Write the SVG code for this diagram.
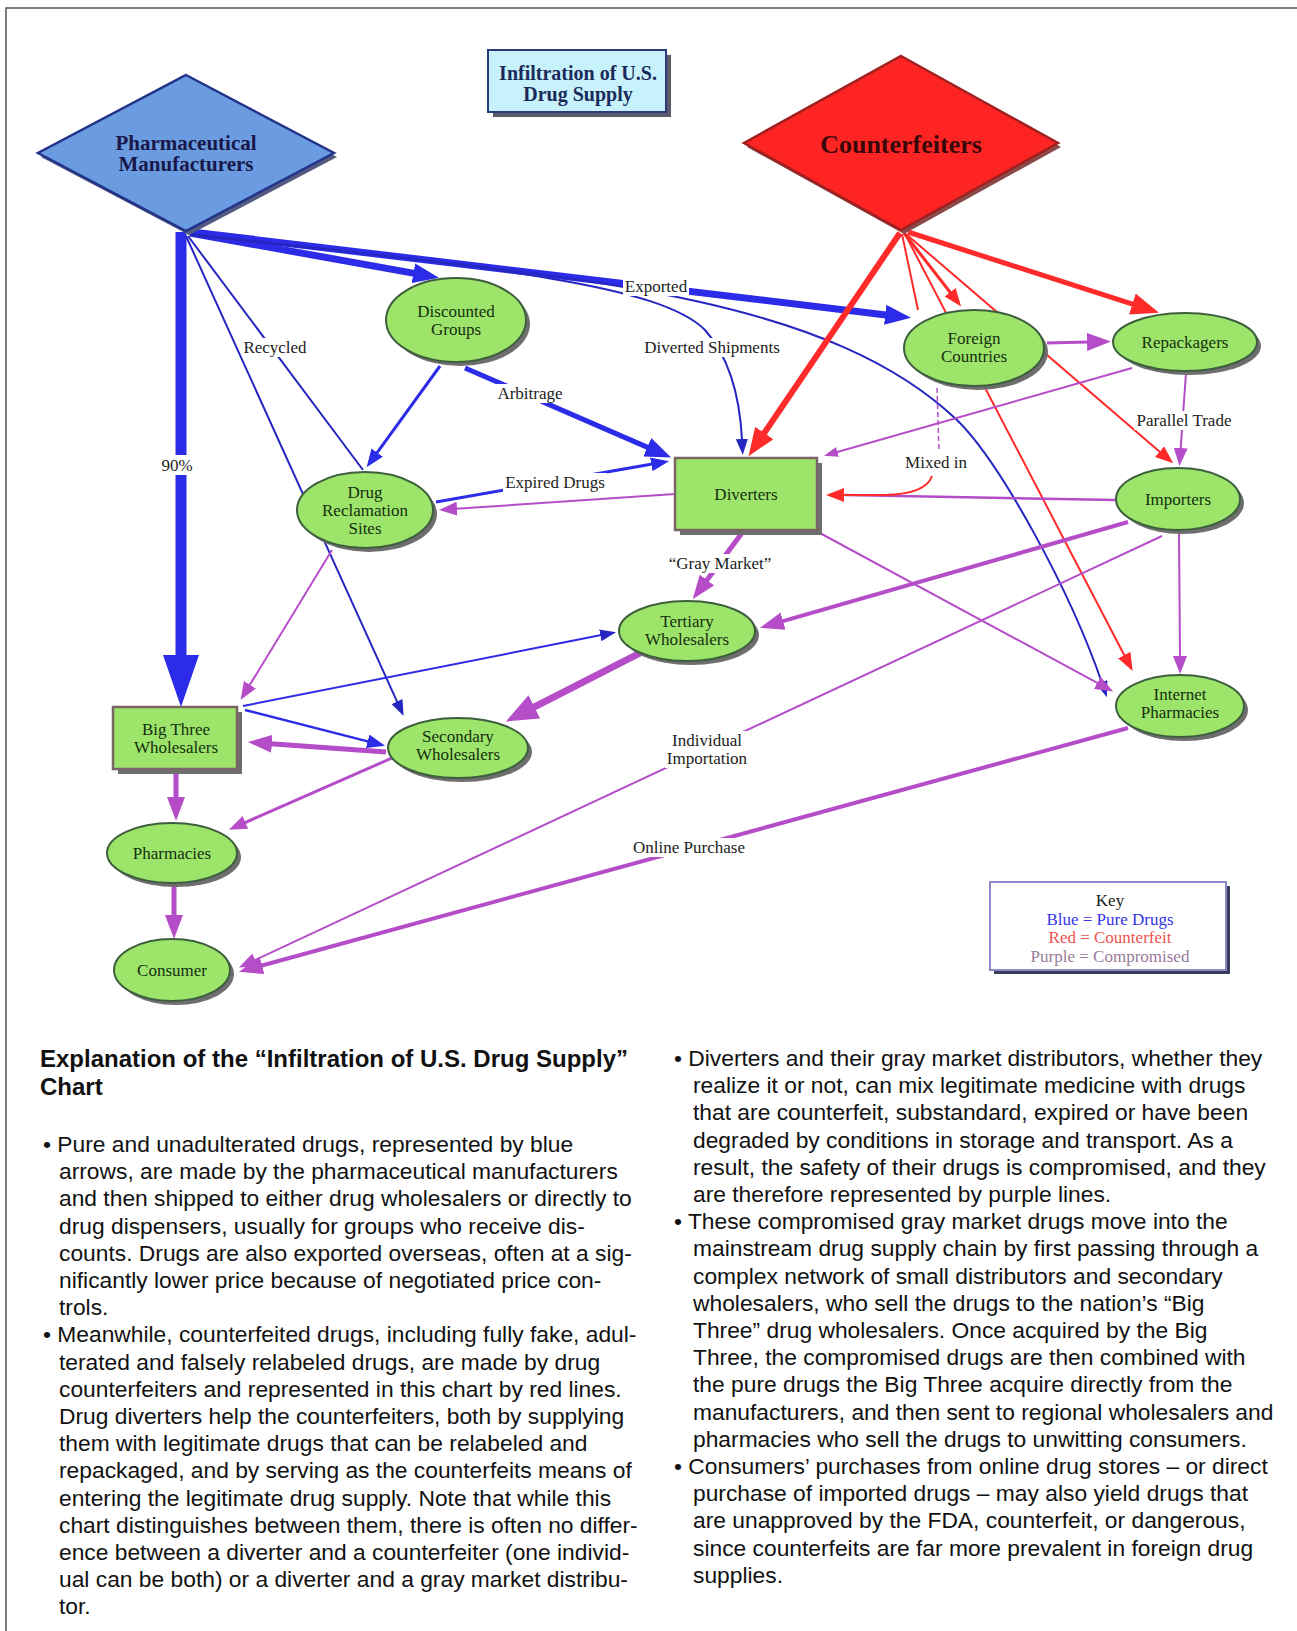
<svg xmlns="http://www.w3.org/2000/svg" width="1297" height="1631" viewBox="0 0 1297 1631">
<style>
.frame{fill:none;stroke:#555;stroke-width:1.5}
.sh{fill:#6e6e6e}
.ell{fill:#9de46b;stroke:#3d5f3d;stroke-width:2}
.box{fill:#9de46b;stroke:#7a6565;stroke-width:2.5}
.nt{font-family:"Liberation Serif","Times New Roman",serif;font-size:17px;fill:#15300f;text-anchor:middle}
.lt{font-family:"Liberation Serif","Times New Roman",serif;font-size:17px;fill:#222;text-anchor:middle}
.lbg{fill:#fff}
.b{fill:none;stroke:#2c2ce8}
.bd{fill:none;stroke:#2626c0}
.r{fill:none;stroke:#ff2a2a}
.p{fill:none;stroke:#b54dc8}
.body{font-family:"Liberation Sans",Arial,sans-serif;font-size:22.8px;fill:#111}
.head{font-family:"Liberation Sans",Arial,sans-serif;font-size:24px;font-weight:bold;fill:#111}
</style>
<defs>
<marker id="bxl" viewBox="0 0 52 36" markerWidth="52" markerHeight="36" refX="1" refY="18" orient="auto" markerUnits="userSpaceOnUse"><path d="M0,0 L52,18 L0,36 z" fill="#2c2ce8"/></marker>
<marker id="bl" viewBox="0 0 26 20" markerWidth="26" markerHeight="20" refX="1" refY="10" orient="auto" markerUnits="userSpaceOnUse"><path d="M0,0 L26,10 L0,20 z" fill="#2c2ce8"/></marker>
<marker id="bm" viewBox="0 0 18 14" markerWidth="18" markerHeight="14" refX="1" refY="7" orient="auto" markerUnits="userSpaceOnUse"><path d="M0,0 L18,7 L0,14 z" fill="#2c2ce8"/></marker>
<marker id="bs" viewBox="0 0 16 12" markerWidth="16" markerHeight="12" refX="1" refY="6" orient="auto" markerUnits="userSpaceOnUse"><path d="M0,0 L16,6 L0,12 z" fill="#2626c0"/></marker>
<marker id="rl" viewBox="0 0 28 22" markerWidth="28" markerHeight="22" refX="1" refY="11" orient="auto" markerUnits="userSpaceOnUse"><path d="M0,0 L28,11 L0,22 z" fill="#ff2a2a"/></marker>
<marker id="rm" viewBox="0 0 18 14" markerWidth="18" markerHeight="14" refX="1" refY="7" orient="auto" markerUnits="userSpaceOnUse"><path d="M0,0 L18,7 L0,14 z" fill="#ff2a2a"/></marker>
<marker id="pxl" viewBox="0 0 32 26" markerWidth="32" markerHeight="26" refX="1" refY="13" orient="auto" markerUnits="userSpaceOnUse"><path d="M0,0 L32,13 L0,26 z" fill="#b54dc8"/></marker>
<marker id="pl" viewBox="0 0 24 18" markerWidth="24" markerHeight="18" refX="1" refY="9" orient="auto" markerUnits="userSpaceOnUse"><path d="M0,0 L24,9 L0,18 z" fill="#b54dc8"/></marker>
<marker id="pm" viewBox="0 0 18 14" markerWidth="18" markerHeight="14" refX="1" refY="7" orient="auto" markerUnits="userSpaceOnUse"><path d="M0,0 L18,7 L0,14 z" fill="#b54dc8"/></marker>
<marker id="ps" viewBox="0 0 14 10" markerWidth="14" markerHeight="10" refX="1" refY="5" orient="auto" markerUnits="userSpaceOnUse"><path d="M0,0 L14,5 L0,10 z" fill="#b54dc8"/></marker>
</defs>
<rect width="1297" height="1631" fill="#fff"/>
<rect class="frame" x="6" y="8" width="1320" height="1700"/>

<g id="connectors">
<!-- blue: pure drugs -->
<path class="b" stroke-width="11" d="M181,232 L181,656" marker-end="url(#bxl)"/>
<path class="b" stroke-width="7" d="M190,233 L414.4,273.4" marker-end="url(#bl)"/>
<path class="b" stroke-width="7" d="M192,232 L886.2,314.9" marker-end="url(#bl)"/>
<path class="bd" stroke-width="2" d="M190,234 C500,268 660,285 705,330 C730,358 740,400 742,440" marker-end="url(#bs)"/>
<path class="bd" stroke-width="2" d="M190,235 C560,275 820,290 957,420 C1000,462 1070,590 1102,683" marker-end="url(#bs)"/>
<path class="bd" stroke-width="2" d="M186,236 L397.4,702.4" marker-end="url(#bs)"/>
<path class="bd" stroke-width="2" d="M188,236 L363,470"/>
<path class="b" stroke-width="3" d="M440,366 L376.6,453.4" marker-end="url(#bm)"/>
<path class="b" stroke-width="5" d="M465,368 L648.2,447.6" marker-end="url(#bl)"/>
<path class="b" stroke-width="3" d="M436,502 L652.3,464.1" marker-end="url(#bm)"/>
<path class="b" stroke-width="2" d="M243,706 L601.3,635.1" marker-end="url(#bs)"/>
<path class="b" stroke-width="2.5" d="M245,710 L368.6,741.6" marker-end="url(#bm)"/>
<!-- red: counterfeit -->
<path class="r" stroke-width="6" d="M900,233 L763.7,433.8" marker-end="url(#rl)"/>
<path class="r" stroke-width="2" d="M902,234 L918,310"/>
<path class="r" stroke-width="3" d="M904,233 L950.7,293" marker-end="url(#rm)"/>
<path class="r" stroke-width="2" d="M906,234 L1160.3,452.3" marker-end="url(#rm)"/>
<path class="r" stroke-width="2" d="M905,234 L1124.7,656" marker-end="url(#rm)"/>
<path class="r" stroke-width="5" d="M908,232 L1133.3,304.4" marker-end="url(#rl)"/>
<!-- purple: compromised -->
<path class="p" stroke-width="3" d="M1047,343 L1088,342" marker-end="url(#pl)"/>
<path class="p" stroke-width="2" d="M1132,368 L836.5,452.2" marker-end="url(#ps)"/>
<path class="p" stroke-width="2" d="M1186,373 L1180.6,449" marker-end="url(#pm)"/>
<path class="p" stroke-width="2.5" d="M1116,500 L845,495"/>
<path class="p" stroke-width="1.5" stroke-dasharray="5 3" d="M937,388 L939,452"/>
<path class="r" stroke-width="2" d="M932,476 Q926,494 885,495 L843,495" marker-end="url(#rm)"/>
<path class="p" stroke-width="4" d="M1128,522 L782.1,621.4" marker-end="url(#pl)"/>
<path class="p" stroke-width="2" d="M1162,536 L254.3,960.4" marker-end="url(#pm)"/>
<path class="p" stroke-width="2" d="M1179,533 L1180,657" marker-end="url(#pm)"/>
<path class="p" stroke-width="4" d="M1128,728 L261.1,965.7" marker-end="url(#pl)"/>
<path class="p" stroke-width="2" d="M818,532 L1098.2,683.4" marker-end="url(#pm)"/>
<path class="p" stroke-width="5" d="M742,533 L706.4,580.8" marker-end="url(#pl)"/>
<path class="p" stroke-width="7" d="M642,652 L533.5,707.4" marker-end="url(#pxl)"/>
<path class="p" stroke-width="2" d="M675,494 L456,508.8" marker-end="url(#pm)"/>
<path class="p" stroke-width="2" d="M332,550 L249.4,685.6" marker-end="url(#pm)"/>
<path class="p" stroke-width="5" d="M386,752 L270.9,743.7" marker-end="url(#pl)"/>
<path class="p" stroke-width="5" d="M176,773 L176,798" marker-end="url(#pl)"/>
<path class="p" stroke-width="5" d="M174,885 L174,916" marker-end="url(#pl)"/>
<path class="p" stroke-width="3" d="M392,758 L244.5,822.8" marker-end="url(#pm)"/>
<!-- connector labels -->
<g id="labels">
<rect class="lbg" x="160" y="455" width="34" height="20"/><text class="lt" x="177" y="471">90%</text>
<rect class="lbg" x="242" y="338" width="67" height="19"/><text class="lt" x="275" y="353">Recycled</text>
<rect class="lbg" x="496" y="384" width="68" height="19"/><text class="lt" x="530" y="399">Arbitrage</text>
<rect class="lbg" x="640" y="338" width="144" height="19"/><text class="lt" x="712" y="353">Diverted Shipments</text>
<rect class="lbg" x="503" y="473" width="104" height="19"/><text class="lt" x="555" y="488">Expired Drugs</text>
<rect class="lbg" x="623" y="277" width="66" height="19"/><text class="lt" x="656" y="292">Exported</text>
<rect class="lbg" x="904" y="453" width="64" height="19"/><text class="lt" x="936" y="468">Mixed in</text>
<rect class="lbg" x="1134" y="411" width="100" height="19"/><text class="lt" x="1184" y="426">Parallel Trade</text>
<rect class="lbg" x="668" y="554" width="104" height="19"/><text class="lt" x="720" y="569">“Gray Market”</text>
<rect class="lbg" x="665" y="731" width="84" height="37"/><text class="lt" x="707" y="746">Individual</text><text class="lt" x="707" y="764">Importation</text>
<rect class="lbg" x="631" y="838" width="116" height="19"/><text class="lt" x="689" y="853">Online Purchase</text>
</g>
</g>

<g id="title">
<rect x="493" y="55" width="178" height="62" fill="#5a5a6a"/>
<rect x="488" y="50" width="178" height="62" fill="#c8f2fb" stroke="#2a3a7a" stroke-width="2"/>
<text x="578" y="80" font-family="Liberation Serif,serif" font-size="20" font-weight="bold" fill="#1a2a5a" text-anchor="middle">Infiltration of U.S.</text>
<text x="578" y="101" font-family="Liberation Serif,serif" font-size="20" font-weight="bold" fill="#1a2a5a" text-anchor="middle">Drug Supply</text>
</g>

<g id="node-pharma">
<polygon points="189,79 337,157 189,235 41,157" fill="#555a80"/>
<polygon points="186,75 334,153 186,231 38,153" fill="#6b9be0" stroke="#22348a" stroke-width="2.5"/>
<text x="186" y="150" font-family="Liberation Serif,serif" font-size="21" font-weight="bold" fill="#18184a" text-anchor="middle">Pharmaceutical</text>
<text x="186" y="171" font-family="Liberation Serif,serif" font-size="21" font-weight="bold" fill="#18184a" text-anchor="middle">Manufacturers</text>
</g>

<g id="node-counterfeiters">
<polygon points="904,60 1061,147 904,234 747,147" fill="#8a4a4a"/>
<polygon points="901,56 1058,143 901,230 744,143" fill="#ff2424" stroke="#a02020" stroke-width="2.5"/>
<text x="901" y="153" font-family="Liberation Serif,serif" font-size="26" font-weight="bold" fill="#3a0808" text-anchor="middle">Counterfeiters</text>
</g>

<g id="node-discounted">
<ellipse class="sh" cx="460" cy="324" rx="70" ry="42"/>
<ellipse class="ell" cx="456" cy="320" rx="70" ry="42"/>
<text class="nt" x="456" y="317">Discounted</text><text class="nt" x="456" y="335">Groups</text>
</g>

<g id="node-reclamation">
<ellipse class="sh" cx="369" cy="514" rx="68" ry="38"/>
<ellipse class="ell" cx="365" cy="510" rx="68" ry="38"/>
<text class="nt" x="365" y="498">Drug</text><text class="nt" x="365" y="516">Reclamation</text><text class="nt" x="365" y="534">Sites</text>
</g>

<g id="node-diverters">
<rect class="sh" x="680" y="463" width="142" height="72"/>
<rect class="box" x="675" y="458" width="142" height="72"/>
<text class="nt" x="746" y="500" font-size="18">Diverters</text>
</g>

<g id="node-bigthree">
<rect class="sh" x="118" y="712" width="124" height="62"/>
<rect class="box" x="113" y="707" width="124" height="62"/>
<text class="nt" x="176" y="735">Big Three</text><text class="nt" x="176" y="753">Wholesalers</text>
</g>

<g id="node-secondary">
<ellipse class="sh" cx="462" cy="752" rx="70" ry="30"/>
<ellipse class="ell" cx="458" cy="748" rx="70" ry="30"/>
<text class="nt" x="458" y="742">Secondary</text><text class="nt" x="458" y="760">Wholesalers</text>
</g>

<g id="node-tertiary">
<ellipse class="sh" cx="691" cy="635" rx="68" ry="30"/>
<ellipse class="ell" cx="687" cy="631" rx="68" ry="30"/>
<text class="nt" x="687" y="627">Tertiary</text><text class="nt" x="687" y="645">Wholesalers</text>
</g>

<g id="node-pharmacies">
<ellipse class="sh" cx="176" cy="857" rx="65" ry="30"/>
<ellipse class="ell" cx="172" cy="853" rx="65" ry="30"/>
<text class="nt" x="172" y="859">Pharmacies</text>
</g>

<g id="node-consumer">
<ellipse class="sh" cx="176" cy="974" rx="58" ry="31"/>
<ellipse class="ell" cx="172" cy="970" rx="58" ry="31"/>
<text class="nt" x="172" y="976">Consumer</text>
</g>

<g id="node-foreign">
<ellipse class="sh" cx="978" cy="352" rx="70" ry="38"/>
<ellipse class="ell" cx="974" cy="348" rx="70" ry="38"/>
<text class="nt" x="974" y="344">Foreign</text><text class="nt" x="974" y="362">Countries</text>
</g>

<g id="node-repackagers">
<ellipse class="sh" cx="1189" cy="346" rx="72" ry="29"/>
<ellipse class="ell" cx="1185" cy="342" rx="72" ry="29"/>
<text class="nt" x="1185" y="348">Repackagers</text>
</g>

<g id="node-importers">
<ellipse class="sh" cx="1182" cy="503" rx="62" ry="31"/>
<ellipse class="ell" cx="1178" cy="499" rx="62" ry="31"/>
<text class="nt" x="1178" y="505">Importers</text>
</g>

<g id="node-internet">
<ellipse class="sh" cx="1184" cy="710" rx="64" ry="31"/>
<ellipse class="ell" cx="1180" cy="706" rx="64" ry="31"/>
<text class="nt" x="1180" y="700">Internet</text><text class="nt" x="1180" y="718">Pharmacies</text>
</g>

<g id="key">
<rect x="994" y="886" width="236" height="88" fill="#3a3a5a"/>
<rect x="990" y="882" width="236" height="88" fill="#fff" stroke="#8a8ac8" stroke-width="2"/>
<text class="lt" x="1110" y="906" fill="#111">Key</text>
<text class="lt" x="1110" y="925" style="fill:#3535e8">Blue = Pure Drugs</text>
<text class="lt" x="1110" y="943" style="fill:#f05050">Red = Counterfeit</text>
<text class="lt" x="1110" y="962" style="fill:#9a7a9a">Purple = Compromised</text>
</g>

<g id="explanation">
<text class="head" x="40" y="1067">Explanation of the “Infiltration of U.S. Drug Supply”</text>
<text class="head" x="40" y="1095">Chart</text>
<text class="body" x="43" y="1152">• Pure and unadulterated drugs, represented by blue</text>
<text class="body" x="59" y="1179.2">arrows, are made by the pharmaceutical manufacturers</text>
<text class="body" x="59" y="1206.4">and then shipped to either drug wholesalers or directly to</text>
<text class="body" x="59" y="1233.6">drug dispensers, usually for groups who receive dis-</text>
<text class="body" x="59" y="1260.8">counts. Drugs are also exported overseas, often at a sig-</text>
<text class="body" x="59" y="1288">nificantly lower price because of negotiated price con-</text>
<text class="body" x="59" y="1315.2">trols.</text>
<text class="body" x="43" y="1342.4">• Meanwhile, counterfeited drugs, including fully fake, adul-</text>
<text class="body" x="59" y="1369.6">terated and falsely relabeled drugs, are made by drug</text>
<text class="body" x="59" y="1396.8">counterfeiters and represented in this chart by red lines.</text>
<text class="body" x="59" y="1424">Drug diverters help the counterfeiters, both by supplying</text>
<text class="body" x="59" y="1451.2">them with legitimate drugs that can be relabeled and</text>
<text class="body" x="59" y="1478.4">repackaged, and by serving as the counterfeits means of</text>
<text class="body" x="59" y="1505.6">entering the legitimate drug supply. Note that while this</text>
<text class="body" x="59" y="1532.8">chart distinguishes between them, there is often no differ-</text>
<text class="body" x="59" y="1560">ence between a diverter and a counterfeiter (one individ-</text>
<text class="body" x="59" y="1587.2">ual can be both) or a diverter and a gray market distribu-</text>
<text class="body" x="59" y="1614.4">tor.</text>

<text class="body" x="674" y="1066">• Diverters and their gray market distributors, whether they</text>
<text class="body" x="693" y="1093.2">realize it or not, can mix legitimate medicine with drugs</text>
<text class="body" x="693" y="1120.4">that are counterfeit, substandard, expired or have been</text>
<text class="body" x="693" y="1147.6">degraded by conditions in storage and transport. As a</text>
<text class="body" x="693" y="1174.8">result, the safety of their drugs is compromised, and they</text>
<text class="body" x="693" y="1202">are therefore represented by purple lines.</text>
<text class="body" x="674" y="1229.2">• These compromised gray market drugs move into the</text>
<text class="body" x="693" y="1256.4">mainstream drug supply chain by first passing through a</text>
<text class="body" x="693" y="1283.6">complex network of small distributors and secondary</text>
<text class="body" x="693" y="1310.8">wholesalers, who sell the drugs to the nation’s “Big</text>
<text class="body" x="693" y="1338">Three” drug wholesalers. Once acquired by the Big</text>
<text class="body" x="693" y="1365.2">Three, the compromised drugs are then combined with</text>
<text class="body" x="693" y="1392.4">the pure drugs the Big Three acquire directly from the</text>
<text class="body" x="693" y="1419.6">manufacturers, and then sent to regional wholesalers and</text>
<text class="body" x="693" y="1446.8">pharmacies who sell the drugs to unwitting consumers.</text>
<text class="body" x="674" y="1474">• Consumers’ purchases from online drug stores – or direct</text>
<text class="body" x="693" y="1501.2">purchase of imported drugs – may also yield drugs that</text>
<text class="body" x="693" y="1528.4">are unapproved by the FDA, counterfeit, or dangerous,</text>
<text class="body" x="693" y="1555.6">since counterfeits are far more prevalent in foreign drug</text>
<text class="body" x="693" y="1582.8">supplies.</text>
</g>
</svg>
